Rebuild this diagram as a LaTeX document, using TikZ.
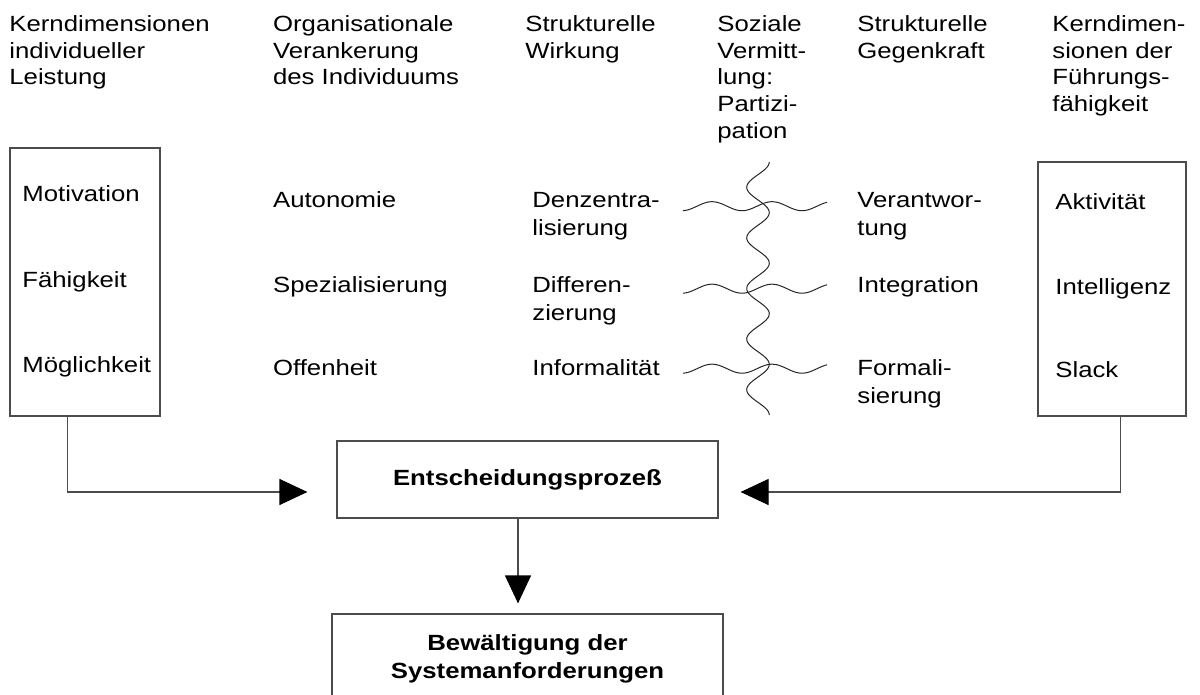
\documentclass[tikz,border=0pt]{standalone}
\usepackage{fontspec}
\setmainfont{Liberation Sans}[FakeStretch=1.17]
\usetikzlibrary{arrows.meta}
\begin{document}
\begin{tikzpicture}[x=0.5pt,y=-0.5pt,
  hdr/.style={anchor=north west, inner sep=0pt, align=left, font=\fontsize{11}{13.4}\selectfont},
  itm/.style={anchor=north west, inner sep=0pt, align=left, font=\fontsize{11}{14}\selectfont},
  frame/.style={draw=black!70, line width=0.6pt, inner sep=0pt},
  bframe/.style={frame, align=center, font=\fontsize{11}{14}\selectfont\bfseries},
  conn/.style={draw=black!70, line width=0.6pt, -{Triangle[length=14pt,width=13pt,color=black]}},
  wave/.style={line width=0.5pt, draw=black!85, smooth}
]
\path[use as bounding box] (0,0) rectangle (1200,695);
\clip (0,0) rectangle (1200,695);

% headers
\node[hdr] (h1) at (9,12.2) {\strut Kerndimensionen\\individueller\\Leistung};
\node[hdr] (h2) at (272.7,12.2) {\strut Organisationale\\Verankerung\\des Individuums};
\node[hdr] (h3) at (525,12.2) {\strut Strukturelle\\Wirkung};
\node[hdr] (h4) at (717,12.2) {\strut Soziale\\Vermitt-\\lung:\\Partizi-\\pation};
\node[hdr] (h5) at (857,12.2) {\strut Strukturelle\\Gegenkraft};
\node[hdr] (h6) at (1052,12.2) {\strut Kerndimen-\\sionen der\\Führungs-\\fähigkeit};

% boxes
\node[frame, minimum width=75pt, minimum height=134pt] (lbox) at (85,282) {};
\node[frame, minimum width=74pt, minimum height=127pt] (rbox) at (1112,289) {};

% left box items
\node[itm] (l1) at (22,181.9) {\strut Motivation};
\node[itm] (l2) at (22,267.9) {\strut Fähigkeit};
\node[itm] (l3) at (22,352.9) {\strut Möglichkeit};

% column 2
\node[itm] (o1) at (272.7,187.9) {\strut Autonomie};
\node[itm] (o2) at (272.7,272.9) {\strut Spezialisierung};
\node[itm] (o3) at (272.7,355.9) {\strut Offenheit};

% column 3
\node[itm] (s1) at (532,187.9) {\strut Denzentra-\\lisierung};
\node[itm] (s2) at (532,272.9) {\strut Differen-\\zierung};
\node[itm] (s3) at (532,355.9) {\strut Informalität};

% column 5
\node[itm] (g1) at (857,187.9) {\strut Verantwor-\\tung};
\node[itm] (g2) at (857,272.9) {\strut Integration};
\node[itm] (g3) at (857,355.9) {\strut Formali-\\sierung};

% right box items
\node[itm] (r1) at (1055,189.9) {\strut Aktivität};
\node[itm] (r2) at (1055,274.9) {\strut Intelligenz};
\node[itm] (r3) at (1055,357.9) {\strut Slack};

% waves
\draw[wave] plot[domain=683:827, samples=80] (\x, {206.2+4.5*cos(6*(\x-682))});
\draw[wave] plot[domain=683:827, samples=80] (\x, {288.7+4.5*cos(6*(\x-682))});
\draw[wave] plot[domain=683:827, samples=80] (\x, {368.7+4.5*cos(6*(\x-682))});
\draw[wave] plot[domain=162:415, samples=150] ({758+11.3*cos(7.115*(\x-162))}, \x);

% process boxes
\node[bframe, minimum width=190.5pt, minimum height=38.5pt] (ent) at (527.5,479.5) {Entscheidungsprozeß};
\node[bframe, minimum width=195.5pt, minimum height=45pt] (bbox) at (527.5,659) {Bewältigung der\\Systemanforderungen};

% connectors
\coordinate (d1) at ([xshift=-4.75pt]ent.south);
\draw[conn, shorten >=14.5pt] ([xshift=29pt]lbox.south west) |- ([yshift=-6.25pt]ent.west);
\draw[conn, shorten >=11pt] ([xshift=41.5pt]rbox.south west) |- ([yshift=-6.25pt]ent.east);
\draw[conn, shorten >=5pt] (d1) -- (d1 |- bbox.north);
\end{tikzpicture}
\end{document}
